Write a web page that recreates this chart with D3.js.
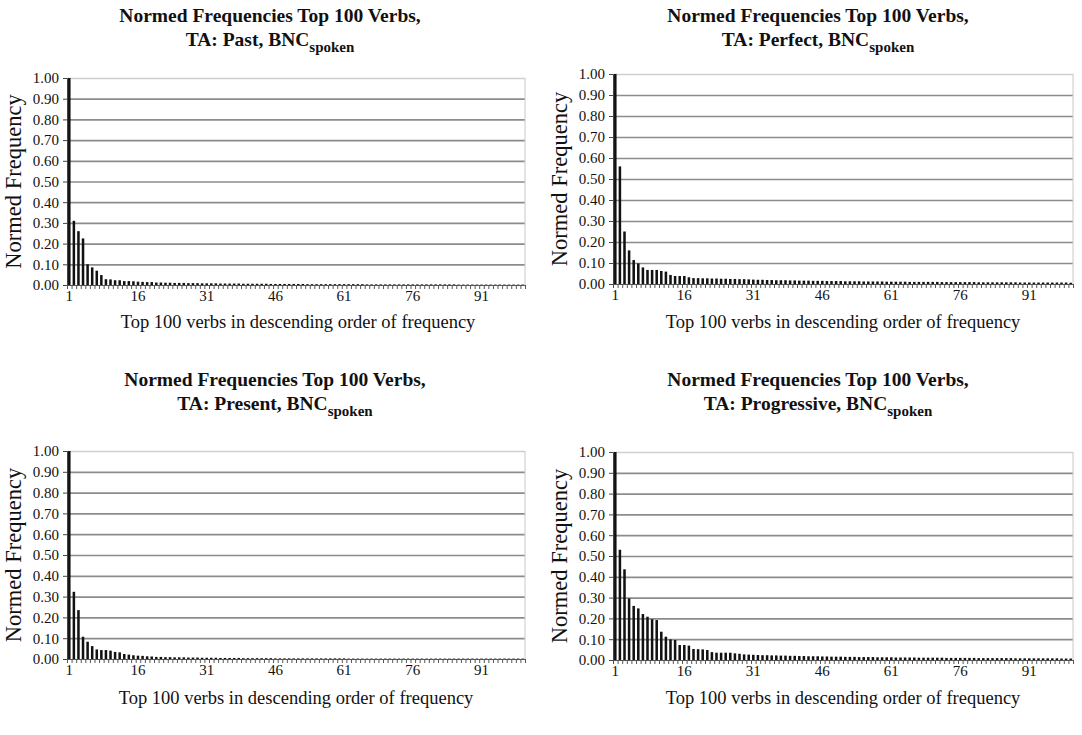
<!DOCTYPE html>
<html>
<head>
<meta charset="utf-8">
<script src="https://cdn.jsdelivr.net/npm/d3@7"></script>
<style>
  body { margin: 0; background: #fff; }
  svg text { font-family: "Liberation Serif", "DejaVu Serif", serif !important; fill: #111; }
</style>
</head>
<body>
<script>
// verb ranks 1..100 and the labelled ones
const ranks = d3.range(1, 101);
const xTickLabels = [1, 16, 31, 46, 61, 76, 91];
const yTicks = [0, 0.1, 0.2, 0.3, 0.4, 0.5, 0.6, 0.7, 0.8, 0.9, 1.0];

// normed frequency of each of the top 100 verbs
const pastValues = [
  1.00, 0.31, 0.26, 0.225, 0.10, 0.085, 0.069, 0.048, 0.028, 0.027,
  0.023, 0.023, 0.019, 0.019, 0.018, 0.016, 0.015, 0.014, 0.014, 0.012,
  0.012, 0.011, 0.011, 0.010, 0.010, 0.010, 0.009, 0.009, 0.009, 0.008,
  0.008, 0.008, 0.008, 0.007, 0.007, 0.007, 0.007, 0.007, 0.006, 0.006,
  0.006, 0.006, 0.006, 0.006, 0.005, 0.005, 0.005, 0.005, 0.005, 0.005,
  0.005, 0.005, 0.004, 0.004, 0.004, 0.004, 0.004, 0.004, 0.004, 0.004,
  0.004, 0.004, 0.004, 0.004, 0.004, 0.003, 0.003, 0.003, 0.003, 0.003,
  0.003, 0.003, 0.003, 0.003, 0.003, 0.003, 0.003, 0.003, 0.003, 0.003,
  0.003, 0.003, 0.003, 0.003, 0.003, 0.002, 0.002, 0.002, 0.002, 0.002,
  0.002, 0.002, 0.002, 0.002, 0.002, 0.002, 0.002, 0.002, 0.002, 0.002
];
const perfectValues = [
  1.00, 0.56, 0.25, 0.16, 0.114, 0.098, 0.079, 0.067, 0.067, 0.067,
  0.062, 0.059, 0.043, 0.038, 0.038, 0.038, 0.032, 0.028, 0.028, 0.027,
  0.027, 0.026, 0.026, 0.025, 0.025, 0.024, 0.024, 0.023, 0.023, 0.022,
  0.021, 0.020, 0.020, 0.019, 0.019, 0.018, 0.018, 0.018, 0.017, 0.017,
  0.016, 0.016, 0.016, 0.015, 0.015, 0.015, 0.014, 0.014, 0.014, 0.014,
  0.013, 0.013, 0.013, 0.013, 0.012, 0.012, 0.012, 0.012, 0.012, 0.011,
  0.011, 0.011, 0.011, 0.011, 0.010, 0.010, 0.010, 0.010, 0.010, 0.010,
  0.010, 0.009, 0.009, 0.009, 0.009, 0.009, 0.009, 0.009, 0.009, 0.008,
  0.008, 0.008, 0.008, 0.008, 0.008, 0.008, 0.008, 0.008, 0.007, 0.007,
  0.007, 0.007, 0.007, 0.007, 0.007, 0.007, 0.007, 0.007, 0.007, 0.006
];
const presentValues = [
  1.00, 0.323, 0.235, 0.107, 0.083, 0.062, 0.046, 0.043, 0.043, 0.040,
  0.034, 0.032, 0.024, 0.021, 0.018, 0.016, 0.015, 0.013, 0.012, 0.010,
  0.010, 0.009, 0.009, 0.008, 0.008, 0.008, 0.007, 0.007, 0.007, 0.006,
  0.006, 0.006, 0.006, 0.005, 0.005, 0.005, 0.005, 0.005, 0.004, 0.004,
  0.004, 0.004, 0.004, 0.004, 0.004, 0.003, 0.003, 0.003, 0.003, 0.003,
  0.003, 0.003, 0.003, 0.003, 0.003, 0.003, 0.003, 0.003, 0.003, 0.003,
  0.003, 0.002, 0.002, 0.002, 0.002, 0.002, 0.002, 0.002, 0.002, 0.002,
  0.002, 0.002, 0.002, 0.002, 0.002, 0.002, 0.002, 0.002, 0.002, 0.002,
  0.002, 0.002, 0.002, 0.002, 0.002, 0.002, 0.002, 0.002, 0.002, 0.002,
  0.002, 0.002, 0.002, 0.002, 0.002, 0.002, 0.002, 0.002, 0.002, 0.002
];
const progressiveValues = [
  1.00, 0.53, 0.436, 0.296, 0.26, 0.248, 0.221, 0.208, 0.196, 0.192,
  0.136, 0.112, 0.099, 0.096, 0.072, 0.072, 0.069, 0.053, 0.052, 0.051,
  0.048, 0.038, 0.035, 0.035, 0.035, 0.035, 0.032, 0.030, 0.027, 0.026,
  0.025, 0.024, 0.023, 0.023, 0.022, 0.022, 0.021, 0.021, 0.020, 0.020,
  0.019, 0.019, 0.018, 0.018, 0.018, 0.017, 0.017, 0.016, 0.016, 0.016,
  0.015, 0.015, 0.015, 0.014, 0.014, 0.014, 0.014, 0.013, 0.013, 0.013,
  0.013, 0.012, 0.012, 0.012, 0.012, 0.012, 0.011, 0.011, 0.011, 0.011,
  0.011, 0.011, 0.010, 0.010, 0.010, 0.010, 0.010, 0.010, 0.010, 0.009,
  0.009, 0.009, 0.009, 0.009, 0.009, 0.009, 0.009, 0.008, 0.008, 0.008,
  0.008, 0.008, 0.008, 0.008, 0.008, 0.008, 0.008, 0.007, 0.007, 0.007
];

const svg = d3.select("body")
  .append("svg")
    .attr("width", 1082)
    .attr("height", 735);

// one panel per tense/aspect
drawPanel(pastValues, "Past",
  {left: 67, right: 525, top: 78, bottom: 285, titleX: 270, titleY: 22, xTitleX: 298, xTitleY: 328, yTitleX: 21});
drawPanel(perfectValues, "Perfect",
  {left: 613, right: 1073, top: 74, bottom: 284, titleX: 818, titleY: 22, xTitleX: 843, xTitleY: 328, yTitleX: 567});
drawPanel(presentValues, "Present",
  {left: 67, right: 525, top: 451, bottom: 659, titleX: 275, titleY: 386, xTitleX: 296, xTitleY: 704, yTitleX: 21});
drawPanel(progressiveValues, "Progressive",
  {left: 613, right: 1073, top: 452, bottom: 660, titleX: 818, titleY: 386, xTitleX: 843, xTitleY: 704, yTitleX: 567});

function drawPanel(values, aspect, L)
{
  const data = ranks.map((r, i) => ({rank: r, value: values[i]}));
  const g = svg.append("g");

  const x = d3.scaleBand()
      .domain(ranks)
      .range([L.left, L.right])
      .paddingInner(0.45)
      .paddingOuter(0.225);

  const xEdge = d3.scaleLinear()
      .domain([0, ranks.length])
      .range([L.left, L.right]);

  const y = d3.scaleLinear()
      .domain([0, 1])
      .range([L.bottom, L.top]);

  // title
  const title = g.append("text")
      .attr("x", L.titleX)
      .attr("y", L.titleY)
      .attr("text-anchor", "middle")
      .attr("font-weight", "bold")
      .attr("font-size", "19.5px");
  title.append("tspan")
      .attr("x", L.titleX)
      .text("Normed Frequencies Top 100 Verbs,");
  const line2 = title.append("tspan")
      .attr("x", L.titleX)
      .attr("dy", 24);
  line2.append("tspan").text(`TA: ${aspect}, BNC`);
  line2.append("tspan")
      .attr("font-size", "15px")
      .attr("dy", 6)
      .text("spoken");

  // grid lines
  g.append("g")
      .attr("transform", `translate(${L.left},0)`)
      .call(d3.axisLeft(y).tickValues(yTicks.slice(1)).tickSize(-(L.right - L.left)).tickFormat(""))
      .call(g => g.select(".domain").remove())
      .call(g => g.selectAll(".tick line")
          .attr("stroke", d => d === 1 ? "#cfcfcf" : "#8c8c8c")
          .attr("stroke-width", 1.7));

  // right border of plot area
  g.append("line")
      .attr("x1", L.right).attr("x2", L.right)
      .attr("y1", L.top).attr("y2", L.bottom)
      .attr("stroke", "#c8c8c8");

  // bars
  g.append("g")
    .selectAll("rect")
    .data(data)
    .join("rect")
      .attr("fill", "#111")
      .attr("x", d => x(d.rank))
      .attr("y", d => y(d.value))
      .attr("width", x.bandwidth())
      .attr("height", d => y(0) - y(d.value));

  // y axis
  g.append("g")
      .attr("transform", `translate(${L.left},0)`)
      .call(d3.axisLeft(y).tickValues(yTicks).tickFormat(d3.format(".2f")).tickSize(4).tickPadding(4))
      .call(g => g.selectAll("line, path").attr("stroke", "#444"))
      .call(g => g.selectAll("text").attr("font-size", "15px"));

  // x axis tick marks at category edges
  g.append("g")
      .attr("transform", `translate(0,${L.bottom})`)
      .call(d3.axisBottom(xEdge).tickValues(d3.range(0, ranks.length + 1)).tickSize(4).tickFormat(""))
      .call(g => g.selectAll("line, path").attr("stroke", "#555"));

  // x axis labels
  g.append("g")
      .attr("transform", `translate(0,${L.bottom})`)
      .call(d3.axisBottom(x).tickValues(xTickLabels).tickSize(0).tickPadding(5))
      .call(g => g.select(".domain").remove())
      .call(g => g.selectAll("text").attr("font-size", "15px"));

  // axis titles
  g.append("text")
      .attr("x", L.xTitleX)
      .attr("y", L.xTitleY)
      .attr("text-anchor", "middle")
      .attr("font-size", "18.5px")
      .text("Top 100 verbs in descending order of frequency");

  g.append("text")
      .attr("transform", `translate(${L.yTitleX},${(L.top + L.bottom) / 2}) rotate(-90)`)
      .attr("text-anchor", "middle")
      .attr("font-size", "22.5px")
      .text("Normed Frequency");
}
</script>
</body>
</html>
